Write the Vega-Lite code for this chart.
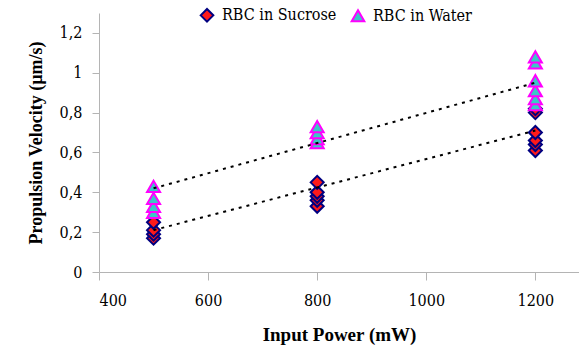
{
  "$schema": "https://vega.github.io/schema/vega-lite/v6.json",
  "autosize": "none",
  "width": 480,
  "height": 259,
  "padding": {"left": 99, "top": 13, "right": 0, "bottom": 79},
  "background": "white",
  "config": {
    "view": {"stroke": null},
    "font": "DejaVu Serif",
    "axis": {"grid": false, "domainColor": "#b4b4b4", "tickColor": "#b4b4b4", "labelColor": "black", "titleColor": "black"}
  },
  "datasets": {
    "points": [
      {"power": 500, "v": 0.17, "series": "RBC in Sucrose"},
      {"power": 500, "v": 0.19, "series": "RBC in Sucrose"},
      {"power": 500, "v": 0.21, "series": "RBC in Sucrose"},
      {"power": 500, "v": 0.25, "series": "RBC in Sucrose"},
      {"power": 800, "v": 0.33, "series": "RBC in Sucrose"},
      {"power": 800, "v": 0.36, "series": "RBC in Sucrose"},
      {"power": 800, "v": 0.38, "series": "RBC in Sucrose"},
      {"power": 800, "v": 0.40, "series": "RBC in Sucrose"},
      {"power": 800, "v": 0.45, "series": "RBC in Sucrose"},
      {"power": 1200, "v": 0.61, "series": "RBC in Sucrose"},
      {"power": 1200, "v": 0.64, "series": "RBC in Sucrose"},
      {"power": 1200, "v": 0.66, "series": "RBC in Sucrose"},
      {"power": 1200, "v": 0.70, "series": "RBC in Sucrose"},
      {"power": 1200, "v": 0.80, "series": "RBC in Sucrose"},
      {"power": 1200, "v": 0.82, "series": "RBC in Sucrose"},
      {"power": 500, "v": 0.30, "series": "RBC in Water"},
      {"power": 500, "v": 0.33, "series": "RBC in Water"},
      {"power": 500, "v": 0.37, "series": "RBC in Water"},
      {"power": 500, "v": 0.43, "series": "RBC in Water"},
      {"power": 800, "v": 0.65, "series": "RBC in Water"},
      {"power": 800, "v": 0.67, "series": "RBC in Water"},
      {"power": 800, "v": 0.70, "series": "RBC in Water"},
      {"power": 800, "v": 0.73, "series": "RBC in Water"},
      {"power": 1200, "v": 0.84, "series": "RBC in Water"},
      {"power": 1200, "v": 0.87, "series": "RBC in Water"},
      {"power": 1200, "v": 0.91, "series": "RBC in Water"},
      {"power": 1200, "v": 0.96, "series": "RBC in Water"},
      {"power": 1200, "v": 1.05, "series": "RBC in Water"},
      {"power": 1200, "v": 1.08, "series": "RBC in Water"}
    ],
    "trend": [
      {"power": 500, "v": 0.21, "series": "RBC in Sucrose"},
      {"power": 1200, "v": 0.71, "series": "RBC in Sucrose"},
      {"power": 500, "v": 0.42, "series": "RBC in Water"},
      {"power": 1200, "v": 0.95, "series": "RBC in Water"}
    ]
  },
  "layer": [
    {
      "data": {"name": "points"},
      "mark": {"type": "point", "filled": true, "strokeWidth": 2, "opacity": 1, "size": 170},
      "encoding": {
        "x": {"field": "power", "type": "quantitative", "scale": {"domain": [400, 1280], "nice": false},
          "axis": {"values": [400, 600, 800, 1000, 1200], "format": "d", "title": "Input Power (mW)", "labelFont": "DejaVu Serif Condensed", "titleFont": "Liberation Serif", "labelFontSize": 16, "labelPadding": 12, "tickSize": 8, "titleFontSize": 19, "titleFontWeight": "bold", "titlePadding": 17}},
        "y": {"field": "v", "type": "quantitative", "scale": {"domain": [0, 1.3], "nice": false},
          "axis": {"values": [0, 0.2, 0.4, 0.6, 0.8, 1, 1.2], "format": "~g", "labelExpr": "replace(datum.label, '.', ',')", "title": "Propulsion Velocity (µm/s)", "labelFont": "DejaVu Serif Condensed", "titleFont": "Liberation Serif", "labelFontSize": 16, "labelPadding": 10, "tickSize": 7, "titleFontSize": 18, "titleFontWeight": "bold", "titlePadding": 14}},
        "shape": {"field": "series", "type": "nominal", "scale": {"domain": ["RBC in Sucrose", "RBC in Water"], "range": ["diamond", "triangle-up"]},
          "legend": {"title": null, "orient": "none", "legendX": 100, "legendY": -6, "direction": "horizontal", "labelFontSize": 16, "labelFont": "DejaVu Serif Condensed", "symbolSize": 160, "symbolStrokeWidth": 2, "labelOffset": 7, "columnPadding": 10}},
        "fill": {"field": "series", "type": "nominal", "scale": {"domain": ["RBC in Sucrose", "RBC in Water"], "range": ["#ff1a1a", "#3cc6c6"]}, "legend": null},
        "stroke": {"field": "series", "type": "nominal", "scale": {"domain": ["RBC in Sucrose", "RBC in Water"], "range": ["#000080", "#ff00ff"]}, "legend": null}
      }
    },
    {
      "data": {"name": "trend"},
      "mark": {"type": "line", "color": "black", "strokeWidth": 2, "strokeDash": [3, 5]},
      "encoding": {
        "x": {"field": "power", "type": "quantitative"},
        "y": {"field": "v", "type": "quantitative"},
        "detail": {"field": "series", "type": "nominal"}
      }
    }
  ]
}
